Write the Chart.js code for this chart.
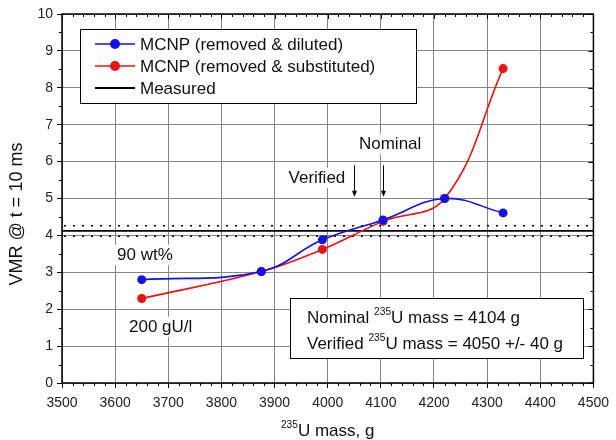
<!DOCTYPE html>
<html>
<head>
<meta charset="utf-8">
<script src="https://cdn.jsdelivr.net/npm/chart.js@4.4.1/dist/chart.umd.min.js"></script>
<style>
  html, body { margin: 0; padding: 0; background: #fff; }
  #wrap { width: 616px; height: 440px; }
</style>
</head>
<body>
<div id="wrap"><canvas id="vmr" width="616" height="440"></canvas></div>
<script>
// values
const massG = [3650, 3875, 3990, 4104, 4220, 4330];
const vmrDiluted = [2.80, 3.02, 3.88, 4.42, 5.00, 4.61];
const vmrSubstituted = [2.29, 3.02, 3.62, 4.38, 5.00, 8.52];
const measuredVmr = 4.12;
const measuredBand = [3.98, 4.26];
const nominalMass = 4104;
const verifiedMass = 4050;
const verifiedErr = 40;
const arrowSpan = [5.9, 5.05]; // VMR where the arrows start / end
const xRange = [3500, 4500];
const yRange = [0, 10];

const FONT = "'Liberation Sans', Arial, sans-serif";
const BLUE = "#1010f0";
const RED = "#f01010";

const toPts = (ys) => massG.map((x, i) => ({ x: x, y: ys[i] }));

// text with a superscript part
function richText(ctx, parts, x, y, size, align) {
  const widths = parts.map((p) => {
    ctx.font = (p.sup ? size * 0.6 : size) + "px " + FONT;
    return ctx.measureText(p.t).width;
  });
  const total = widths.reduce((a, b) => a + b, 0);
  let cx = align === "center" ? x - total / 2 : x;
  ctx.textAlign = "left";
  ctx.textBaseline = "alphabetic";
  parts.forEach((p, i) => {
    ctx.font = (p.sup ? size * 0.6 : size) + "px " + FONT;
    ctx.fillText(p.t, cx, p.sup ? y - size * 0.45 : y);
    cx += widths[i];
  });
  return total;
}

function labelWithBg(ctx, text, x, y, size) {
  ctx.font = size + "px " + FONT;
  const w = ctx.measureText(text).width;
  ctx.fillStyle = "#fff";
  ctx.fillRect(x - 2, y - size * 0.6, w + 4, size * 1.2);
  ctx.fillStyle = "#111";
  ctx.textAlign = "left";
  ctx.textBaseline = "middle";
  ctx.fillText(text, x, y);
}

const decor = {
  id: "decor",
  beforeDatasetsDraw(chart) {
    const { ctx, chartArea: a, scales: { x, y } } = chart;
    ctx.save();
    // measured value and its band
    ctx.strokeStyle = "#000";
    ctx.lineWidth = 1.8;
    ctx.beginPath();
    ctx.moveTo(a.left, y.getPixelForValue(measuredVmr));
    ctx.lineTo(a.right, y.getPixelForValue(measuredVmr));
    ctx.stroke();
    ctx.lineWidth = 1.5;
    ctx.setLineDash([2, 7]);
    measuredBand.forEach((v) => {
      ctx.beginPath();
      ctx.moveTo(a.left + 2, y.getPixelForValue(v));
      ctx.lineTo(a.right, y.getPixelForValue(v));
      ctx.stroke();
    });
    ctx.setLineDash([]);

    // free labels (white background over the grid)
    labelWithBg(ctx, "90 wt%", a.left + 55, 255, 17);
    labelWithBg(ctx, "200 gU/l", a.left + 67, 327, 17);
    ctx.font = "17px " + FONT;
    const vw = ctx.measureText("Verified").width;
    labelWithBg(ctx, "Verified", x.getPixelForValue(verifiedMass) - 9 - vw, 178, 17);
    labelWithBg(ctx, "Nominal", x.getPixelForValue(nominalMass) - 24, 144, 17);

    // arrows
    ctx.strokeStyle = "#000";
    ctx.fillStyle = "#000";
    ctx.lineWidth = 1;
    [verifiedMass, nominalMass].forEach((m) => {
      const px = Math.round(x.getPixelForValue(m)) + 0.5;
      const y0 = y.getPixelForValue(arrowSpan[0]);
      const y1 = y.getPixelForValue(arrowSpan[1]);
      ctx.beginPath();
      ctx.moveTo(px, y0);
      ctx.lineTo(px, y1 - 4);
      ctx.stroke();
      ctx.beginPath();
      ctx.moveTo(px - 2.5, y1 - 6);
      ctx.lineTo(px + 2.5, y1 - 6);
      ctx.lineTo(px, y1);
      ctx.closePath();
      ctx.fill();
    });
    ctx.restore();
  },
  afterDatasetsDraw(chart) {
    const { ctx, chartArea: a, scales: { x, y } } = chart;
    ctx.save();

    // frame
    ctx.strokeStyle = "#000";
    ctx.lineWidth = 1.5;
    ctx.strokeRect(a.left, a.top, a.right - a.left, a.bottom - a.top);

    // ticks: minor on all sides, major inward on top/right
    ctx.lineWidth = 1;
    for (let v = xRange[0]; v <= xRange[1]; v += 20) {
      const px = Math.round(x.getPixelForValue(v)) + 0.5;
      const major = v % 100 === 0;
      const len = major ? 5 : 3;
      ctx.beginPath();
      if (!major) {
        ctx.moveTo(px, a.bottom);
        ctx.lineTo(px, a.bottom + len);
      }
      ctx.moveTo(px, a.top);
      ctx.lineTo(px, a.top + len);
      ctx.stroke();
    }
    for (let v = yRange[0]; v <= yRange[1] + 1e-9; v += 0.5) {
      const py = Math.round(y.getPixelForValue(v)) + 0.5;
      const major = Math.abs(v - Math.round(v)) < 1e-9;
      const len = major ? 5 : 3;
      ctx.beginPath();
      if (!major) {
        ctx.moveTo(a.left, py);
        ctx.lineTo(a.left - len, py);
      }
      ctx.moveTo(a.right, py);
      ctx.lineTo(a.right - len, py);
      ctx.stroke();
    }

    // legend
    const lx = a.left + 18, ly = a.top + 15, lw = 336, lh = 74;
    ctx.fillStyle = "#fff";
    ctx.fillRect(lx, ly, lw, lh);
    ctx.strokeStyle = "#000";
    ctx.lineWidth = 1;
    ctx.strokeRect(lx + 0.5, ly + 0.5, lw, lh);
    const rows = [
      { label: chart.data.datasets[0].label, color: BLUE, dot: true },
      { label: chart.data.datasets[1].label, color: RED, dot: true },
      { label: "Measured", color: "#000", dot: false }
    ];
    rows.forEach((r, i) => {
      const ry = ly + 15 + i * 22;
      ctx.strokeStyle = r.color;
      ctx.lineWidth = r.dot ? 1.5 : 1.8;
      ctx.beginPath();
      ctx.moveTo(lx + 15, ry);
      ctx.lineTo(lx + 55, ry);
      ctx.stroke();
      if (r.dot) {
        ctx.fillStyle = r.color;
        ctx.beginPath();
        ctx.arc(lx + 35, ry, 5, 0, Math.PI * 2);
        ctx.fill();
      }
      ctx.fillStyle = "#111";
      ctx.font = "17px " + FONT;
      ctx.textAlign = "left";
      ctx.textBaseline = "middle";
      ctx.fillText(r.label, lx + 60, ry + 1);
    });

    // mass box
    const bx = 290, by = 298, bw = 293, bh = 60;
    ctx.fillStyle = "#fff";
    ctx.fillRect(bx, by, bw, bh);
    ctx.strokeStyle = "#000";
    ctx.lineWidth = 1;
    ctx.strokeRect(bx + 0.5, by + 0.5, bw, bh);
    ctx.fillStyle = "#111";
    richText(ctx, [{ t: "Nominal " }, { t: "235", sup: true }, { t: "U mass = " + nominalMass + " g" }], bx + 17, by + 25, 17);
    richText(ctx, [{ t: "Verified " }, { t: "235", sup: true }, { t: "U mass = " + verifiedMass + " +/- " + verifiedErr + " g" }], bx + 17, by + 51, 17);

    // axis titles
    ctx.fillStyle = "#111";
    richText(ctx, [{ t: "235", sup: true }, { t: "U mass, g" }], (a.left + a.right) / 2, 436, 17, "center");
    ctx.translate(17, 214);
    ctx.rotate(-Math.PI / 2);
    ctx.font = "18px " + FONT;
    ctx.textAlign = "center";
    ctx.textBaseline = "middle";
    ctx.fillText("VMR @ t = 10 ms", 0, 0);
    ctx.restore();
  }
};

new Chart(document.getElementById("vmr"), {
  type: "line",
  data: {
    datasets: [
      {
        label: "MCNP (removed & diluted)",
        data: toPts(vmrDiluted),
        borderColor: BLUE,
        backgroundColor: BLUE,
        borderWidth: 1.6,
        pointRadius: 4.5,
        pointBorderWidth: 0,
        tension: 0.4
      },
      {
        label: "MCNP (removed & substituted)",
        data: toPts(vmrSubstituted),
        borderColor: RED,
        backgroundColor: RED,
        borderWidth: 1.6,
        pointRadius: 4.5,
        pointBorderWidth: 0,
        tension: 0.4
      }
    ]
  },
  options: {
    responsive: false,
    animation: false,
    layout: { padding: { top: 14, right: 14, left: 0, bottom: 0 } },
    plugins: { legend: { display: false }, tooltip: { enabled: false } },
    scales: {
      x: {
        type: "linear",
        min: xRange[0],
        max: xRange[1],
        afterFit: (s) => { s.height = 57; },
        ticks: { stepSize: 100, color: "#222", padding: 7, font: { family: FONT, size: 14 }, callback: (v) => String(v) },
        grid: { color: "#858585", lineWidth: 1, tickLength: 5, tickColor: "#000" },
        border: { display: false }
      },
      y: {
        min: yRange[0],
        max: yRange[1],
        afterFit: (s) => { s.width = 62; },
        ticks: { stepSize: 1, color: "#222", padding: 4, font: { family: FONT, size: 14 } },
        grid: { color: "#858585", lineWidth: 1, tickLength: 5, tickColor: "#000" },
        border: { display: false }
      }
    }
  },
  plugins: [decor]
});
</script>
</body>
</html>
